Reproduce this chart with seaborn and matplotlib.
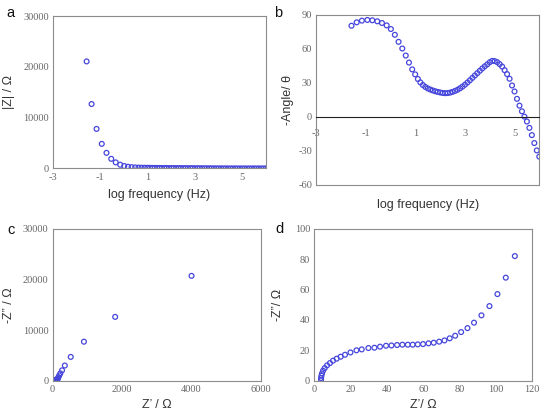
import numpy as np
import pandas as pd
import seaborn as sns
import matplotlib.pyplot as plt

# log frequency grid (Hz) shared by panels a and b
log_freq = [-1.58, -1.37, -1.16, -0.94, -0.74, -0.54, -0.35, -0.16, 0.01, 0.17,
            0.32, 0.47, 0.61, 0.74, 0.87, 0.99, 1.1, 1.2, 1.3, 1.4,
            1.5, 1.6, 1.7, 1.8, 1.9, 2.0, 2.1, 2.2, 2.3, 2.4,
            2.5, 2.6, 2.7, 2.8, 2.9, 3.0, 3.1, 3.2, 3.3, 3.4,
            3.5, 3.6, 3.7, 3.8, 3.9, 4.0, 4.1, 4.2, 4.3, 4.4,
            4.5, 4.6, 4.7, 4.8, 4.9, 5.0, 5.1, 5.2, 5.3, 5.4,
            5.5, 5.6, 5.7, 5.8, 5.9, 6.0]

# |Z| in ohm
mod_z = [21100, 12700, 7800, 4850, 3080, 1900, 1200, 740, 480, 340,
         260, 210, 180, 160, 148, 138, 126, 116, 108, 101,
         96, 91, 87, 83, 80, 77, 74, 71, 69, 66,
         63, 60, 58, 55, 52, 49, 46, 43, 40, 37,
         34, 31, 28, 25, 22, 20, 17.5, 15.5, 13.5, 12,
         10.5, 9.2, 8.2, 7.3, 6.6, 6.0, 5.5, 5.1, 4.8, 4.6,
         4.5, 4.5, 4.6, 4.8, 5.1, 5.5]

# -phase angle in degrees
angle = [80.5, 83.5, 85.0, 85.6, 85.3, 84.4, 82.9, 80.8, 77.6, 72.5,
         66.3, 60.4, 54.2, 48.0, 42.0, 37.6, 33.5, 30.5, 28.2, 26.5,
         25.2, 24.2, 23.4, 22.7, 22.1, 21.6, 21.2, 21.0, 21.1, 21.5,
         22.1, 23.0, 24.0, 25.3, 26.8, 28.5, 30.4, 32.4, 34.5, 36.6,
         38.7, 40.8, 42.8, 44.7, 46.4, 48.3, 49.5, 49.3, 48.4, 46.6,
         44.5, 41.3, 37.8, 33.7, 27.8, 22.5, 16.0, 10.0, 5.0, 0.3,
         -4.0, -9.6, -16.0, -23.0, -29.5, -35.0]

# Nyquist data (ohm)
z_real = [4000, 1800, 900, 520, 350, 270, 220, 190, 165, 150,
          140, 132, 126, 121, 118,
          110.5, 105.5, 100.9, 96.5, 92.1, 88.0, 84.4, 80.9, 77.6, 74.6,
          71.7, 68.8, 65.8, 62.9, 59.9, 57.0, 54.2, 51.5, 48.5, 45.6,
          42.5, 39.5, 36.2, 33.1, 29.8, 26.1, 23.2, 19.9, 16.9, 14.5,
          12.3, 10.3, 8.6, 7.0, 5.7, 4.8, 4.2, 3.9, 3.7, 3.7]
z_imag = [20700, 12600, 7700, 4700, 3000, 2050, 1450, 1050, 700, 480,
          340, 250, 190, 140, 104,
          82.0, 67.8, 57.0, 49.1, 43.0, 38.2, 34.6, 32.0, 29.6, 27.9,
          26.5, 25.7, 25.0, 24.6, 24.1, 23.9, 23.7, 23.7, 23.7, 23.5,
          23.2, 23.0, 22.4, 21.7, 21.5, 20.6, 20.0, 18.6, 17.1, 15.8,
          14.5, 13.2, 11.6, 10.1, 8.3, 6.6, 4.8, 3.3, 1.8, 0.4]

bode = pd.DataFrame({"logf": log_freq, "modz": mod_z, "angle": angle})
nyq = pd.DataFrame({"zre": z_real, "zim": z_imag})

sns.set_style("white")
plt.rcParams["font.family"] = ["Liberation Sans", "DejaVu Sans"]
plt.rcParams["axes.unicode_minus"] = False

blue = "#4646dc"
frame = "#8c8c8c"
lab_kw = dict(fontsize=9, color="#333333")

fig = plt.figure(figsize=(5.42, 4.17), dpi=100)
ax_a = fig.add_axes([0.0978, 0.596, 0.393, 0.365])
ax_b = fig.add_axes([0.5836, 0.5564, 0.4114, 0.4077])
ax_c = fig.add_axes([0.0972, 0.087, 0.3843, 0.3645])
ax_d = fig.add_axes([0.580, 0.087, 0.4017, 0.3645])

def style(ax):
    for sp in ax.spines.values():
        sp.set_color(frame)
        sp.set_linewidth(0.8)
    ax.tick_params(direction="in", length=2.5, width=0.7, color="#555555",
                   labelcolor="#666666", pad=3)
    for lab in ax.get_xticklabels() + ax.get_yticklabels():
        lab.set_fontfamily("Liberation Serif")
        lab.set_fontsize(7.5)

pts = dict(marker="o", s=12, facecolor="none", edgecolor=blue, linewidth=0.9)

# a
sns.scatterplot(data=bode, x="logf", y="modz", ax=ax_a, **pts)
ax_a.set_xlim(-3, 6)
ax_a.set_ylim(0, 30000)
ax_a.set_xticks([-3, -1, 1, 3, 5])
ax_a.set_yticks([0, 10000, 20000, 30000])
ax_a.set_xlabel("log frequency (Hz)", labelpad=5, **lab_kw)
ax_a.set_ylabel("|Z| / Ω", labelpad=6, **lab_kw)
style(ax_a)

# b
sns.scatterplot(data=bode, x="logf", y="angle", ax=ax_b, **pts)
ax_b.set_xlim(-3, 6)
ax_b.set_ylim(-60, 90)
ax_b.set_xticks([-3, -1, 1, 3, 5])
ax_b.set_yticks([-60, -30, 0, 30, 60, 90])
ax_b.spines["bottom"].set_position(("data", 0))
style(ax_b)
ax_b.spines["bottom"].set_color("#222222")
ax_b.axhline(-60, color=frame, lw=0.8, clip_on=False)
ax_b.tick_params(axis="x", pad=9)
ax_b.set_xlabel("log frequency (Hz)", **lab_kw)
ax_b.xaxis.set_label_coords(0.5, -0.085)
ax_b.set_ylabel("-Angle/ θ", labelpad=3, **lab_kw)

# c
sns.scatterplot(data=nyq, x="zre", y="zim", ax=ax_c, **pts)
ax_c.set_xlim(0, 6000)
ax_c.set_ylim(0, 30000)
ax_c.set_xticks([0, 2000, 4000, 6000])
ax_c.set_yticks([0, 10000, 20000, 30000])
ax_c.set_xlabel("Z’ / Ω", labelpad=4, **lab_kw)
ax_c.set_ylabel("-Z” / Ω", labelpad=6, **lab_kw)
style(ax_c)

# d
sns.scatterplot(data=nyq, x="zre", y="zim", ax=ax_d, **pts)
ax_d.set_xlim(0, 120)
ax_d.set_ylim(0, 100)
ax_d.set_xticks(range(0, 121, 20))
ax_d.set_yticks(range(0, 101, 20))
ax_d.set_xlabel("Z’/ Ω", labelpad=4, **lab_kw)
ax_d.set_ylabel("-Z”/ Ω", labelpad=8, **lab_kw)
style(ax_d)

for letter, x, y in [("a", 0.012, 0.968), ("b", 0.505, 0.968),
                     ("c", 0.014, 0.448), ("d", 0.508, 0.452)]:
    fig.text(x, y, letter, fontsize=10.5, color="#111111", va="center")

fig.savefig("out.png", dpi=100)
